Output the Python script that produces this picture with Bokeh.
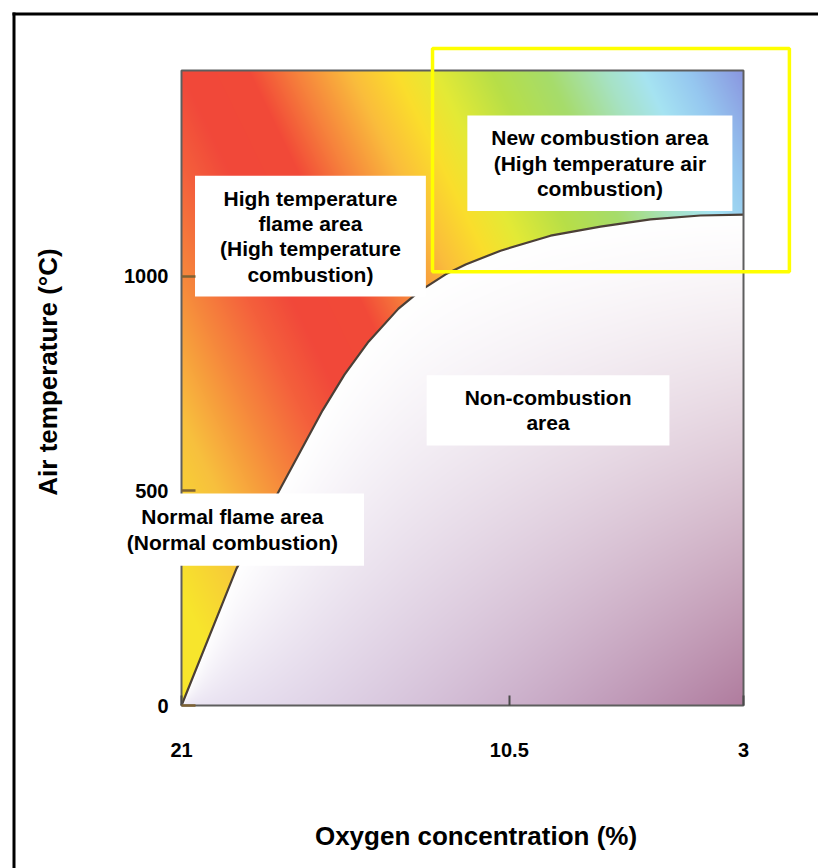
import numpy as np
from bokeh.plotting import figure
from bokeh.models import Range1d, FixedTicker, Label, BoxAnnotation
from bokeh.embed import file_html
from bokeh.resources import INLINE

# ---------------- data ----------------
oxygen_ticks = [21, 10.5, 3]            # Oxygen concentration (%)
temperature_ticks = [0, 500, 1000]      # Air temperature (°C)
oxygen_limits = [21, 3]                 # plot area, left -> right
temperature_limits = [0, 1480]          # plot area, bottom -> top

# combustion limit curve (oxygen %, air temperature °C)
boundary_oxygen = [21.0, 19.24, 17.96, 16.48, 15.78, 15.01, 14.05, 13.35,
                   12.54, 11.90, 10.78, 9.18, 7.58, 5.98, 4.38, 3.0]
boundary_temperature = [0, 319, 489, 688, 771, 848, 925, 967,
                        1005, 1028, 1060, 1095, 1116, 1133, 1142, 1144]

region_texts = [
    "High temperature\nflame area\n(High temperature\ncombustion)",
    "New combustion area\n(High temperature air\ncombustion)",
    "Non-combustion\narea",
    "Normal flame area\n(Normal combustion)",
]
region_oxygen = [16.87, 7.60, 9.26, 19.37]
region_temperature = [1094, 1264, 688, 410]

# highlighted "new combustion" window (oxygen %, °C)
highlight_oxygen = [12.96, 1.53]
highlight_temperature = [1011, 1531]

# ---------------- layout / style ----------------
W, H = 818, 868
PLOT_L, PLOT_R, PLOT_T, PLOT_B = 181, 743, 70, 705     # plot area in screen px
FONT = "Liberation Sans"
region_padding = [(25, 11), (24, 11), (38, 11), (26, 12)]

x0, x1 = oxygen_limits
y0, y1 = temperature_limits
kx = (x0 - x1) / (PLOT_R - PLOT_L)
ky = (y1 - y0) / (PLOT_B - PLOT_T)

def px2x(px):
    return x0 - (px - PLOT_L) * kx

def py2y(py):
    return y0 + (PLOT_B - py) * ky

# ---------------- background colour field ----------------
def hex_rgb(h):
    h = h.lstrip("#")
    return [int(h[i:i + 2], 16) for i in (0, 2, 4)]

flame_stops = [-0.45, -0.30, -0.18, -0.08, 0.0, 0.12, 0.2, 0.3, 0.38,
               0.45, 0.55, 0.65, 0.75, 0.82, 0.9, 1.0]
flame_cols = ["#f7e52c", "#f8c03e", "#f68a3c", "#f4603c", "#f1483a", "#f24a38",
              "#f6803c", "#fabd3c", "#fbde2c", "#e4ea36", "#b8df48", "#a6dc6c",
              "#a6e2c4", "#a6e4f2", "#96c8f0", "#8a96e0"]
flame_rgb_stops = np.array([hex_rgb(c) for c in flame_cols], dtype=float)
lavender = np.array(hex_rgb("#c8b8e0"), dtype=float)
mauve = np.array(hex_rgb("#b07c9e"), dtype=float)

x_lo, x_hi = min(oxygen_limits), max(oxygen_limits)
NX, NY = PLOT_R - PLOT_L, PLOT_B - PLOT_T
xs = x_lo + (np.arange(NX) + 0.5) * (x_hi - x_lo) / NX
ys = y0 + (np.arange(NY) + 0.5) * (y1 - y0) / NY
X, Y = np.meshgrid(xs, ys)
u = (x_hi - X) / (x_hi - x_lo)          # 0 at left (21 %) .. 1 at right (3 %)
v = (Y - y0) / (y1 - y0)                # 0 bottom .. 1 top
yc = np.interp(X, boundary_oxygen[::-1], boundary_temperature[::-1])
flame = Y >= yc

s = u - 0.55 * (1 - v)
flame_rgb = np.stack([np.interp(s, flame_stops, flame_rgb_stops[:, k]) for k in range(3)], -1)
d = np.clip((yc - Y) / np.maximum(yc, 1.0), 0, 1)
f = (d ** 1.3) * (0.35 + 0.65 * u)
end = lavender[None, None, :] * (1 - u)[..., None] + mauve[None, None, :] * u[..., None]
cool_rgb = 255.0 * (1 - f)[..., None] + end * f[..., None]
rgb = np.where(flame[..., None], flame_rgb, cool_rgb)

img = np.empty((NY, NX), dtype=np.uint32)
view = img.view(dtype=np.uint8).reshape((NY, NX, 4))
for k in range(3):
    view[..., k] = np.clip(rgb[..., k], 0, 255).astype(np.uint8)
view[..., 3] = 255

# ---------------- figure (frame = whole canvas) ----------------
p = figure(width=W, height=H, title=None,
           x_range=Range1d(px2x(0), px2x(W)), y_range=Range1d(py2y(H), py2y(0)),
           output_backend="svg", toolbar_location=None,
           min_border=0)
p.background_fill_color = "white"
p.border_fill_color = "white"
p.outline_line_color = None
p.xgrid.visible = False
p.ygrid.visible = False

p.image_rgba(image=[img], x=x_lo, y=y0, dw=x_hi - x_lo, dh=y1 - y0, level="image")
p.line(boundary_oxygen, boundary_temperature, line_color="#4b3f36", line_width=2.2,
       level="underlay")
p.quad(left=[x0], right=[x1], bottom=[y0], top=[y1],
       fill_color=None, line_color="#5e5e5e", line_width=2, level="underlay")

# axes placed on the plot-area edges
p.xaxis.fixed_location = y0
p.yaxis.fixed_location = x0
p.xaxis.ticker = FixedTicker(ticks=oxygen_ticks)
p.xaxis.major_label_overrides = {t: str(t) for t in oxygen_ticks}
p.yaxis.ticker = FixedTicker(ticks=temperature_ticks)
p.yaxis.major_label_overrides = {t: str(t) for t in temperature_ticks}
for ax in (p.xaxis[0], p.yaxis[0]):
    ax.axis_line_color = None
    ax.minor_tick_line_color = None
    ax.major_tick_out = 0
    ax.major_label_text_font = FONT
    ax.major_label_text_font_size = "20px"
    ax.major_label_text_font_style = "bold"
    ax.major_label_text_color = "black"
    ax.axis_label_text_font = FONT
    ax.axis_label_text_font_size = "26px"
    ax.axis_label_text_font_style = "bold"
    ax.axis_label_text_color = "black"

p.xaxis.bounds = (px2x(770), x0)          # centres the axis title as in the reference
p.xaxis.major_tick_in = 10
p.xaxis.major_tick_line_color = "#4a4a4a"
p.xaxis.major_tick_line_width = 2
p.xaxis.major_label_standoff = 37
p.xaxis.axis_label = "Oxygen concentration (%)"
p.xaxis.axis_label_standoff = 61

p.yaxis.bounds = (y0, py2y(38))
p.yaxis.major_tick_in = 14
p.yaxis.major_tick_line_color = "#7d6233"
p.yaxis.major_tick_line_width = 2.5
p.yaxis.major_label_standoff = 13
p.yaxis.axis_label = "Air temperature (°C)"
p.yaxis.axis_label_standoff = 58

# region labels (white boxes), drawn below the axes
for txt, xo, yt, (ph, pv) in zip(region_texts, region_oxygen, region_temperature, region_padding):
    p.add_layout(Label(x=xo, y=yt, text=txt, text_align="center", text_baseline="middle",
                       text_font=FONT, text_font_size="21px", text_font_style="bold",
                       text_color="black", text_line_height=1.1,
                       background_fill_color="white", level="glyph",
                       padding=dict(left=ph, right=ph, top=pv, bottom=pv)))

# yellow highlight window
p.add_layout(BoxAnnotation(left=highlight_oxygen[0], right=highlight_oxygen[1],
                           bottom=highlight_temperature[0], top=highlight_temperature[1],
                           fill_alpha=0, line_color="#ffff00", line_alpha=1, line_width=3.5))

# page frame: only its left and top edges fall inside the picture
p.add_layout(BoxAnnotation(left=px2x(12), right=px2x(15), top=py2y(12), bottom=py2y(H + 100),
                           fill_color="black", fill_alpha=1, line_alpha=0))
p.add_layout(BoxAnnotation(left=px2x(12), right=px2x(W + 100), top=py2y(12), bottom=py2y(15),
                           fill_color="black", fill_alpha=1, line_alpha=0))

open("out.html", "w").write(file_html(p, INLINE))
